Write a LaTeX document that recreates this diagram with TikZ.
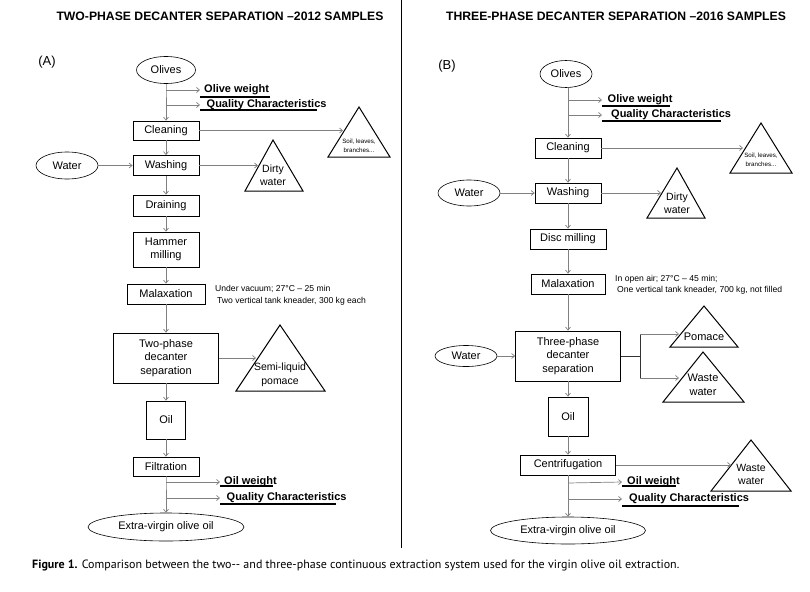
\documentclass[tikz,border=0pt]{standalone}
\usepackage{fontspec}
\setmainfont{Liberation Sans}
\newfontfamily\capfont{PT Sans}
\usetikzlibrary{arrows.meta,shapes.geometric,calc}
\definecolor{linegray}{HTML}{808080}
\begin{document}
\begin{tikzpicture}[x=1pt,y=-1pt,
  box/.style={draw=black,line width=0.8pt,rectangle,inner sep=0pt,align=center,font=\fontsize{11}{13.5}\selectfont},
  oval/.style={draw=black,line width=0.6pt,ellipse,inner sep=0pt,font=\fontsize{11}{13}\selectfont},
  conn/.style={draw=linegray,line width=0.7pt},
  arr/.style={conn,-{Straight Barb[length=3pt,width=5pt]}},
  tri/.style={draw=black,line width=1pt,line join=miter},
  tritext/.style={align=center,inner sep=0pt,font=\fontsize{10.5}{13.5}\selectfont},
  smalltri/.style={align=center,inner sep=0pt,font=\fontsize{6.2}{9}\selectfont},
  meas/.style={anchor=west,inner ysep=0pt,inner xsep=4pt,font=\bfseries\fontsize{11}{13}\selectfont},
  uline/.style={draw=black,line width=1.1pt},
  note/.style={anchor=west,inner sep=0pt,font=\fontsize{8.6}{10}\selectfont},
  title/.style={inner sep=0pt,font=\bfseries\fontsize{12.2}{14}\selectfont},
  panel/.style={inner sep=0pt,font=\fontsize{13}{15}\selectfont}]
\useasboundingbox (0,0) rectangle (810,591);

% ---------- titles and divider ----------
\node[title] (titleA) at (220,16) {TWO-PHASE DECANTER SEPARATION –2012 SAMPLES};
\node[title] (titleB) at (616,16) {THREE-PHASE DECANTER SEPARATION –2016 SAMPLES};
\coordinate (divtop) at (401,0);
\coordinate (divbot) at (401,548);
\draw[black,line width=0.8pt] (divtop) -- (divbot);
\node[panel] (labA) at (47,62) {(A)};
\node[panel] (labB) at (447,66) {(B)};

% ================= PANEL A =================
\node[oval,minimum width=59pt,minimum height=27pt] (olivesA) at (166,70) {Olives};
\node[box,minimum width=66pt,minimum height=19pt] (cleanA) at (166,130.5) {Cleaning};
\node[box,minimum width=66pt,minimum height=20pt] (washA) at (166,165.5) {Washing};
\node[oval,minimum width=62pt,minimum height=27pt] (waterA) at (67,165.5) {Water};
\node[box,minimum width=66pt,minimum height=21pt] (drainA) at (166,205.5) {Draining};
\node[box,minimum width=66pt,minimum height=35pt] (hammerA) at (166,249.5) {Hammer\\milling};
\node[box,minimum width=78pt,minimum height=20pt] (malaxA) at (166,294) {Malaxation};
\node[box,minimum width=105pt,minimum height=50pt] (decA) at (166,358) {Two-phase\\decanter\\separation};
\node[box,minimum width=39pt,minimum height=38pt] (oilA) at (166,420) {Oil};
\node[box,minimum width=66pt,minimum height=19pt] (filtA) at (166,466.5) {Filtration};
\node[oval,minimum width=156pt,minimum height=28pt] (evooA) at (166,527) {Extra-virgin olive oil};

% measurements top A
\coordinate (jA1) at (166,90);
\coordinate (jA2) at (166,105);
\node[meas] (owA) at (200,90) {Olive weight};
\node[meas,inner xsep=6.5pt] (qcA) at (200,105) {Quality Characteristics};
\draw[uline] ([yshift=-7pt]owA.west) -- ++(70,0);
\draw[uline] ([yshift=-5pt]qcA.west) -- ++(117,0);
% measurements bottom A
\coordinate (jA3) at (166,482);
\coordinate (jA4) at (166,498);
\node[meas] (ow2A) at (220,482) {Oil weight};
\node[meas,inner xsep=6.5pt] (qc2A) at (220,498) {Quality Characteristics};
\draw[uline] ([yshift=-4pt]ow2A.west) -- ++(53,0);
\draw[uline] ([yshift=-6pt]qc2A.west) -- ++(116,0);

% notes A
\node[note] (noteA1) at (215,289) {Under vacuum; 27°C – 25 min};
\node[note] (noteA2) at (217,301) {Two vertical tank kneader, 300 kg each};

% triangles A
\draw[tri] (359,107) -- (390,157) -- (328,157) -- cycle;
\node[smalltri] (soilA) at (359,145.5) {Soil, leaves,\\branches...};
\coordinate (soilAin) at (343,130.5);
\draw[tri] (273,140) -- (303,191) -- (245,191) -- cycle;
\node[tritext] (dirtyA) at (273,175) {Dirty\\water};
\coordinate (dirtyAin) at (258,165.5);
\draw[tri] (280,325) -- (325,391) -- (236,391) -- cycle;
\node[tritext,font=\fontsize{10.5}{14}\selectfont] (semiA) at (280,374.5) {Semi-liquid\\pomace};
\coordinate (semiAin) at (256,358);

% connectors A
\draw[conn] (olivesA.south) -- (jA1) -- (jA2);
\draw[arr] (jA2) -- (cleanA.north);
\draw[arr] (jA1) -- (owA.west);
\draw[arr] (jA2) -- (qcA.west);
\draw[arr] (cleanA.east) -- (soilAin);
\draw[arr] (cleanA) -- (washA);
\draw[arr] (waterA) -- (washA);
\draw[arr] (washA.east) -- (dirtyAin);
\draw[arr] (washA) -- (drainA);
\draw[arr] (drainA) -- (hammerA);
\draw[arr] (hammerA) -- (malaxA);
\draw[arr] (malaxA) -- (decA);
\draw[arr] (decA.east) -- (semiAin);
\draw[arr] (decA) -- (oilA);
\draw[arr] (oilA) -- (filtA);
\draw[conn] (filtA.south) -- (jA3) -- (jA4);
\draw[arr] (jA4) -- (evooA.north);
\draw[arr] (jA3) -- (ow2A.west);
\draw[arr] (jA4) -- (qc2A.west);

% ================= PANEL B =================
\node[oval,minimum width=52pt,minimum height=27pt] (olivesB) at (566,74) {Olives};
\node[box,minimum width=66pt,minimum height=20pt] (cleanB) at (568,148) {Cleaning};
\node[box,minimum width=66pt,minimum height=20pt] (washB) at (568,193) {Washing};
\node[oval,minimum width=62pt,minimum height=26pt] (waterB1) at (469,193) {Water};
\node[box,minimum width=76pt,minimum height=20pt] (discB) at (568,239) {Disc milling};
\node[box,minimum width=74pt,minimum height=20pt] (malaxB) at (568,284) {Malaxation};
\node[box,minimum width=105pt,minimum height=50pt] (decB) at (568,356) {Three-phase\\decanter\\separation};
\node[oval,minimum width=62pt,minimum height=21pt] (waterB2) at (466,356) {Water};
\node[box,minimum width=40pt,minimum height=39pt] (oilB) at (568,416.5) {Oil};
\node[box,minimum width=95pt,minimum height=20pt] (centB) at (568,465) {Centrifugation};
\node[oval,minimum width=155pt,minimum height=27pt] (evooB) at (568,530.5) {Extra-virgin olive oil};

% measurements top B
\coordinate (jB1) at (568,100);
\coordinate (jB2) at (568,115);
\node[meas,inner xsep=5.5pt] (owB) at (602,100) {Olive weight};
\node[meas,inner xsep=9pt] (qcB) at (602,115) {Quality Characteristics};
\draw[uline] ([yshift=-6pt]owB.west) -- ++(68,0);
\draw[uline] ([yshift=-6pt]qcB.west) -- ++(119,0);
% measurements bottom B
\coordinate (jB3) at (568,483);
\coordinate (jB4) at (568,499);
\node[meas,inner xsep=5pt] (ow2B) at (622,482) {Oil weight};
\node[meas,inner xsep=7pt] (qc2B) at (622,499) {Quality Characteristics};
\draw[uline] ([yshift=-4pt]ow2B.west) -- ++(54,0);
\draw[uline] ([yshift=-7pt]qc2B.west) -- ++(117,0);

% notes B
\node[note] (noteB1) at (615,279) {In open air; 27°C – 45 min;};
\node[note] (noteB2) at (617,290.5) {One vertical tank kneader, 700 kg, not filled};

% triangles B
\draw[tri] (761,123) -- (792,173) -- (730,173) -- cycle;
\node[smalltri] (soilB) at (761,160) {Soil, leaves,\\branches...};
\coordinate (soilBin) at (743,148);
\draw[tri] (677,168) -- (705,218) -- (647,218) -- cycle;
\node[tritext,font=\fontsize{10.5}{12.5}\selectfont] (dirtyB) at (677,203) {Dirty\\water};
\coordinate (dirtyBin) at (661,193);
\draw[tri] (704,306) -- (738,347) -- (670,347) -- cycle;
\node[tritext,font=\fontsize{11}{13}\selectfont] (pomB) at (704,337) {Pomace};
\coordinate (pomBin) at (679,334);
\draw[tri] (703,352) -- (744,402) -- (663,402) -- cycle;
\node[tritext,font=\fontsize{11}{14}\selectfont] (waste1B) at (703,385) {Waste\\water};
\coordinate (waste1Bin) at (679,378);
\draw[tri] (751,440) -- (791,491) -- (711,491) -- cycle;
\node[tritext,font=\fontsize{10.5}{13}\selectfont] (waste2B) at (751,474.5) {Waste\\water};
\coordinate (waste2Bin) at (731,465);

% connectors B
\coordinate (jBm) at (640,356);
\coordinate (jBt) at (640,334);
\coordinate (jBb) at (640,378);
\draw[conn] (olivesB.south -| jB1) -- (jB1) -- (jB2);
\draw[arr] (jB2) -- (cleanB.north);
\draw[arr] (jB1) -- (owB.west);
\draw[arr] (jB2) -- (qcB.west);
\draw[arr] (cleanB.east) -- (soilBin);
\draw[arr] (cleanB) -- (washB);
\draw[arr] (waterB1) -- (washB);
\draw[arr] (washB.east) -- (dirtyBin);
\draw[arr] (washB) -- (discB);
\draw[arr] (discB) -- (malaxB);
\draw[arr] (malaxB) -- (decB);
\draw[arr] (waterB2) -- (decB);
\draw[draw=black!80,line width=0.8pt] (decB.east) -- (jBm);
\draw[draw=black!80,line width=0.8pt] (jBt) -- (jBb);
\draw[arr] (jBt) -- (pomBin);
\draw[arr] (jBb) -- (waste1Bin);
\draw[arr] (decB) -- (oilB);
\draw[arr] (oilB) -- (centB);
\draw[arr] (centB.east) -- (waste2Bin);
\draw[conn] (centB.south) -- (jB3) -- (jB4);
\draw[arr] (jB4) -- (evooB.north);
\draw[arr] (jB3) -- (ow2B.west);
\draw[arr] (jB4) -- (qc2B.west);

% ---------- caption ----------
\node[anchor=west,inner sep=0pt,font=\capfont\fontsize{12}{14}\selectfont] (caption) at (32,565)
  {\textbf{Figure 1.} Comparison between the two-{}- and three-phase continuous extraction system used for the virgin olive oil extraction.};
\end{tikzpicture}
\end{document}
